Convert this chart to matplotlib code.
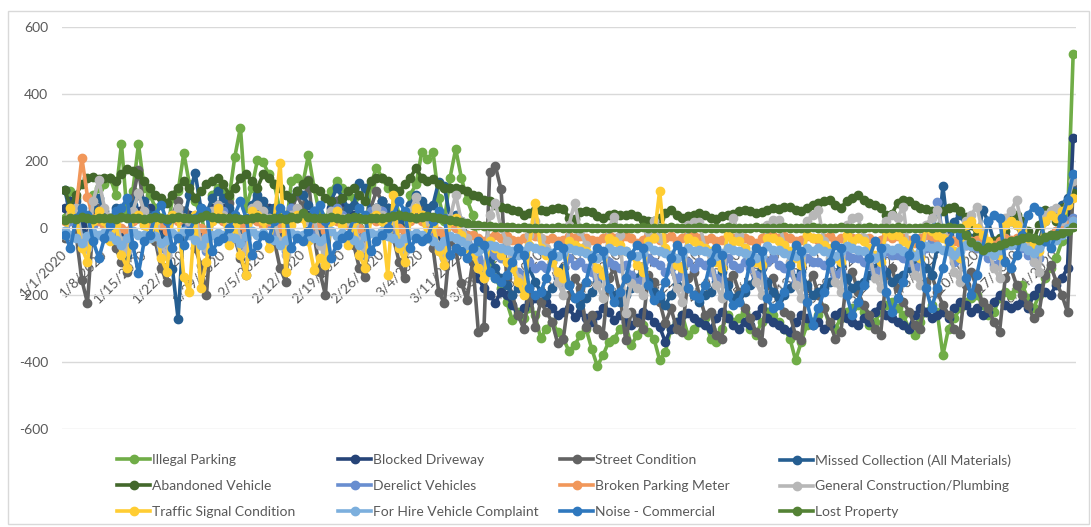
import matplotlib
matplotlib.use("Agg")
import matplotlib.pyplot as plt
from matplotlib.patches import Rectangle
import pandas as pd

plt.rcParams['font.family'] = ['Lato', 'DejaVu Sans']
plt.rcParams['axes.unicode_minus'] = False

# daily categories 1/1/2020 .. 6/27/2020
dates = pd.date_range('2020-01-01', periods=179)
day_labels = [f"{d.month}/{d.day}/{d.year}" for d in dates]

illegal_parking = [
    30, 110, 90, 20, -40, 100, 120,   130, 150, 100, 251, 40, 110, 250,
    120, 100, 60, 30, -20, 90, 110,   224, 130, 80, 40, -30, 100, 120,
    110, 90, 212, 300, 60, 120, 203,   197, 160, 130, 50, -10, 140, 150,
    130, 218, 120, 40, -20, 110, 140,   120, 100, 90, 30, -30, 130, 180,
    150, 120, 110, 40, -10, 100, 130,   226, 206, 226, 90, 20, 150, 236,
    150, 84, 40, -60, -120, -100, -150,   -180, -220, -275, -250, -270, -240, -260,
    -329, -300, -280, -310, -330, -368, -350,   -320, -300, -360, -412, -380, -340, -330,
    -300, -290, -350, -320, -290, -310, -330,   -394, -370, -300, -280, -260, -320, -300,
    -280, -270, -330, -340, -300, -260, -280,   -270, -250, -300, -320, -280, -250, -260,
    -280, -300, -330, -395, -340, -290, -280,   -260, -240, -290, -300, -270, -250, -240,
    -230, -250, -290, -280, -250, -230, -220,   -240, -260, -300, -320, -280, -250, -230,
    -250, -380, -300, -270, -240, -220, -210,   -200, -230, -260, -250, -210, -190, -200,
    -180, -170, -210, -240, -200, -150, -120,   -90, -40, 20, 520,
]

blocked_driveway = [
    60, 80, 40, 10, -20, 50, 60,   40, 30, 20, -10, -30, 40, 50,
    30, 60, 40, 0, -40, 30, 50,   50, 40, 20, -20, -40, 60, 70,
    60, 50, 30, 10, -30, 40, 60,   70, 60, 40, 0, -50, 30, 50,
    60, 40, 30, -10, -40, 60, 80,   70, 50, 40, 0, -30, 40, 60,
    80, 60, 50, 10, -20, 50, 40,   60, 40, 30, -20, -60, 20, 10,
    -20, -60, -100, -150, -180, -200, -223,   -190, -200, -230, -260, -240, -220, -210,
    -190, -220, -240, -260, -250, -240, -265,   -250, -270, -280, -260, -240, -250, -275,
    -260, -280, -290, -270, -250, -260, -280,   -295, -340, -300, -280, -260, -255, -270,
    -280, -290, -300, -270, -250, -270, -290,   -300, -280, -290, -260, -240, -270, -280,
    -290, -300, -310, -280, -260, -270, -290,   -280, -300, -290, -260, -250, -270, -280,
    -290, -270, -280, -250, -230, -260, -270,   -280, -290, -300, -260, -240, -250, -270,
    -260, -250, -270, -240, -220, -230, -250,   -240, -260, -250, -220, -200, -230, -240,
    -230, -220, -240, -200, -180, -190, -200,   -170, -150, -120, 270,
]

street_condition = [
    -30, 40, -20, -155, -224, 20, 60,   30, -20, -60, -100, -130, 90, 173,
    60, 20, -40, -120, -160, 40, 80,   50, 10, -60, -110, -200, 30, 70,
    40, 75, -30, -90, -140, 60, 90,   70, 30, -40, -120, -160, 50, 100,
    60, 143, -20, -130, -200, 40, 80,   50, 20, -50, -120, -145, 60, 110,
    80, 40, -30, -100, -150, 70, 90,   70, 30, -60, -190, -225, -40, -60,
    -165, -215, -100, -310, -295, 168, 185,   116, -150, -200, -260, -300, -180, -295,
    -220, -250, -280, -344, -330, -200, -150,   -180, -295, -260, -300, -320, -150, -120,
    -200, -334, -250, -280, -300, -140, -160,   -220, -285, -240, -300, -310, -150, -130,
    -200, -260, -250, -320, -330, -160, -140,   -190, -240, -270, -310, -340, -170, -150,
    -210, -250, -260, -320, -335, -180, -140,   -200, -240, -280, -330, -310, -150, -130,
    -190, -230, -260, -300, -320, -140, -120,   -180, -220, -250, -290, -300, -160, -140,
    -190, -230, -260, -300, -315, -170, -130,   -180, -220, -240, -280, -310, -150, -120,
    -170, -200, -230, -270, -250, -140, -110,   -160, -200, -250, 120,
]

missed_collection = [
    113, 40, 80, -20, -60, 60, 90,   50, 20, 60, -40, -80, 70, 100,
    80, 40, 30, -30, -60, -123, -272,   20, 100, 165, 60, 40, 90, 110,
    90, 60, 40, -20, -50, 70, 100,   80, 50, 60, -30, -60, 90, 110,
    100, 70, 50, -20, -40, 80, 120,   90, 60, 70, 134, 119, 40, 60,
    80, 60, 50, 20, -20, 70, 100,   80, 60, 70, 138, 124, 30, 40,
    20, -20, -60, -100, -130, -90, -120,   -150, -170, -200, -180, -140, -120, -160,
    -190, -200, -180, -150, -120, -170, -210,   -230, -210, -190, -160, -130, -180, -200,
    -220, -200, -180, -150, -120, -160, -190,   -210, -230, -200, -170, -140, -180, -200,
    -220, -200, -190, -160, -130, -170, -210,   -200, -190, -170, -140, -120, -160, -190,
    -210, -200, -180, -150, -130, -170, -200,   -190, -180, -160, -140, -110, -150, -180,
    -170, -160, -140, -120, -90, -130, -160,   -150, -140, -120, -100, -80, -120, -140,
    -60, 125, -20, 19, 40, 10, -30,   -50, 54, 20, -40, -80, -20, 30,
    10, -30, -60, -90, -40, 20, 50,   40, 70, 90, 110,
]

abandoned_vehicle = [
    113, 64, 100, 130, 150, 153, 145,   150, 150, 140, 160, 176, 170, 160,
    140, 120, 100, 90, 75, 100, 120,   140, 120, 90, 110, 130, 140, 150,
    130, 100, 120, 150, 160, 140, 120,   160, 150, 130, 120, 100, 90, 110,
    130, 140, 120, 110, 90, 80, 60,   90, 110, 120, 100, 80, 140, 150,
    149, 140, 120, 110, 130, 150, 179,   150, 140, 145, 130, 120, 119, 120,
    115, 110, 100, 95, 84, 80, 70,   64, 60, 55, 50, 39, 45, 54,
    54, 50, 56, 60, 58, 30, 28,   49, 50, 48, 35, 30, 38, 42,
    40, 39, 42, 36, 25, 20, 22,   30, 45, 54, 40, 30, 35, 40,
    45, 39, 30, 28, 35, 40, 42,   50, 54, 50, 45, 48, 55, 60,
    58, 62, 64, 55, 50, 60, 70,   75, 80, 84, 70, 60, 80, 90,
    99, 85, 75, 70, 60, 40, 42,   75, 84, 80, 70, 60, 58, 50,
    45, 50, 60, 64, 50, 34, 10,   -20, -50, -60, -40, -30, -10, 20,
    40, 20, -10, -40, 10, 54, 45,   20, 60, 80, 105,
]

derelict_vehicles = [
    -20, 20, 40, -30, -60, 10, 30,   20, 0, -10, -50, -70, 40, 30,
    10, 20, -20, -60, -80, 30, 50,   30, 10, -30, -40, -70, 40, 60,
    50, 20, -20, -50, -60, 30, 40,   40, 10, -10, -40, -70, 60, 50,
    30, 20, -20, -50, -60, 40, 60,   40, 30, -10, -30, -80, 50, 40,
    50, 30, 0, -40, -60, 40, 30,   30, 10, -20, -70, -90, 10, 0,
    -20, -40, -60, -90, -110, -70, -80,   -90, -100, -110, -130, -150, -100, -120,
    -110, -120, -100, -140, -160, -90, -110,   -100, -120, -130, -150, -140, -100, -110,
    -120, -110, -140, -160, -150, -90, -100,   -110, -130, -120, -150, -140, -100, -120,
    -100, -110, -130, -150, -160, -90, -110,   -120, -100, -120, -140, -150, -100, -90,
    -110, -120, -130, -160, -140, -90, -100,   -100, -110, -120, -140, -130, -80, -90,
    -90, -100, -110, -130, -120, -70, -80,   -80, -90, -100, -120, -110, -60, -40,
    79, -20, -60, -100, -90, -50, -40,   -60, -70, -90, -110, -100, -50, -40,
    -50, -60, -80, -100, -90, -40, -20,   -10, 0, 20, 30,
]

broken_parking_meter = [
    20, 40, 60, 210, 93, 30, 20,   10, 20, 30, 0, -10, 20, 30,
    20, 10, 30, 10, -10, 30, 20,   30, 20, 10, 0, -20, 20, 40,
    20, 10, 20, 10, -10, 30, 20,   10, 20, 30, 0, -20, 20, 30,
    30, 20, 10, 10, -10, 40, 20,   20, 10, 20, 0, -20, 30, 20,
    30, 20, 10, 0, -10, 20, 30,   20, 10, 0, -10, -20, 10, 0,
    -10, -20, -20, -30, -40, -30, -20,   -30, -25, -35, -40, -30, -20, -25,
    -30, -35, -30, -40, -35, -25, -30,   -25, -30, -35, -40, -30, -20, -30,
    -30, -25, -30, -45, -35, -25, -30,   -35, -30, -25, -40, -30, -20, -25,
    -30, -35, -30, -40, -35, -25, -30,   -25, -30, -35, -45, -30, -20, -25,
    -30, -25, -30, -40, -35, -25, -30,   -35, -30, -25, -40, -30, -20, -30,
    -30, -35, -30, -40, -35, -25, -30,   -25, -30, -35, -45, -30, -20, -25,
    -30, -25, -30, -40, -45, -50, -40,   -35, -40, -45, -50, -40, -30, -35,
    -30, -40, -35, -45, -40, -30, -20,   -10, 0, 10, 20,
]

general_construction = [
    -20, 40, 60, -30, -60, 80, 143,   60, 30, 20, -40, -70, 50, 104,
    50, 30, 10, -50, -80, 40, 60,   30, 20, 40, -40, -60, 50, 70,
    40, 20, 30, -30, -70, 60, 69,   50, 30, 20, -40, -80, 40, 60,
    40, 20, 30, -50, -70, 50, 50,   30, 20, 10, -40, -60, 30, 60,
    40, 30, 20, -30, -70, 50, 93,   40, 20, 10, -60, -90, 30, 99,
    20, -30, -60, -120, -150, 40, 75,   0, -40, -80, -150, -180, -20, 20,
    -30, -60, -100, -160, -200, 10, 75,   -10, -50, -90, -170, -210, 0, 34,
    -20, -254, -165, -180, -200, -10, 20,   -30, -70, -110, -180, -220, 10, 19,
    19, -60, -100, -170, -210, 0, 30,   -20, -60, -90, -160, -200, 10, 24,
    24, -50, -100, -170, -210, 20, 40,   54, -40, -90, -160, -190, 10, 30,
    34, -30, -80, -150, -180, 20, 40,   30, 64, -70, -140, -170, 10, 30,
    54, -20, -60, -130, -160, 20, 40,   64, -10, -50, -120, -150, 30, 50,
    84, 0, -40, -100, -130, 40, 50,   60, 20, 80, 140,
]

traffic_signal = [
    -20, 60, 30, -60, -100, 20, 50,   20, -40, 10, -80, -120, 30, 40,
    10, -30, 20, -90, -130, 40, 30,   -145, -190, 40, -180, -100, 20, 60,
    30, -50, 10, -80, -140, 50, 40,   20, -60, 30, 195, -130, 10, 40,
    30, -40, -125, -90, -110, 20, 50,   10, -50, 20, -80, -120, 30, 40,
    20, -140, 99, -60, -100, 30, 60,   40, -30, 10, -70, -110, 20, 30,
    -20, -60, -80, -120, -150, -40, -60,   -80, -100, -120, -160, -200, -50, 75,
    -60, -80, -100, -130, -150, -40, -50,   -60, -70, -90, -120, -140, -30, -40,
    -50, -70, -80, -110, -130, -40, -30,   111, -60, -80, -110, -120, -30, -40,
    -50, -60, -70, -100, -120, -20, -40,   -40, -60, -80, -100, -110, -30, -30,
    -40, -50, -70, -90, -110, -20, -30,   -30, -50, -60, -90, -100, -20, -40,
    -30, -40, -60, -80, -100, -10, -20,   -20, -40, -50, -80, -90, 0, -10,
    -20, -30, -50, -70, -90, 10, 20,   0, -20, -40, -60, -80, 10, 20,
    10, -10, -30, -50, -70, 20, 40,   30, 50, 70, 90,
]

for_hire_vehicle = [
    -10, -20, -30, -45, -25, -15, -20,   -15, -25, -35, -50, -30, -10, -20,
    -20, -30, -25, -45, -35, -15, -25,   -10, -20, -35, -50, -30, -20, -15,
    -20, -25, -30, -45, -25, -10, -20,   -15, -30, -35, -50, -35, -15, -20,
    -20, -25, -30, -40, -30, -10, -25,   -15, -20, -35, -50, -25, -15, -20,
    -10, -25, -30, -45, -30, -20, -15,   -20, -30, -40, -55, -40, -25, -30,
    -40, -50, -60, -70, -60, -50, -55,   -60, -65, -70, -80, -70, -55, -60,
    -65, -70, -75, -85, -75, -60, -65,   -70, -75, -80, -90, -80, -60, -70,
    -65, -70, -80, -85, -75, -55, -65,   -70, -75, -80, -90, -80, -60, -70,
    -65, -70, -75, -85, -75, -60, -65,   -70, -75, -80, -90, -80, -55, -65,
    -65, -75, -80, -85, -75, -60, -70,   -60, -70, -75, -85, -70, -55, -60,
    -65, -70, -80, -90, -75, -60, -65,   -60, -70, -75, -85, -70, -55, -60,
    -55, -65, -70, -80, -70, -50, -55,   -50, -60, -70, -80, -65, -45, -50,
    -45, -55, -65, -75, -60, -40, -45,   -35, -20, 0, 20,
]

noise_commercial = [
    -20, -60, 30, 60, 40, -40, -90,   -30, 10, 50, 60, 89, -50, -135,
    -40, -20, 40, 70, 20, -60, -30,   -50, -10, 30, 60, 50, -70, -40,
    -30, 0, 40, 80, 30, -80, -50,   -20, -30, 20, 60, 40, -60, -30,
    -40, -10, 50, 70, 20, -90, -50,   -30, -20, 30, 60, 40, -70, -40,
    -20, 0, 40, 80, 50, -60, -30,   -40, -30, 20, 50, 30, -80, -60,
    -70, -90, -60, -40, -50, -130, -150,   -160, -140, -100, -60, -80, -180, -200,
    -190, -150, -80, -50, -60, -170, -210,   -200, -160, -90, -60, -70, -180, -220,
    -190, -150, -80, -50, -60, -170, -215,   -200, -160, -90, -50, -70, -180, -200,
    -210, -170, -100, -60, -80, -200, -230,   -220, -180, -100, -60, -70, -210, -240,
    -230, -190, -110, -50, -70, -220, -290,   -240, -190, -100, -50, -60, -200, -260,
    -220, -170, -90, -40, -60, -190, -250,   -210, -160, -80, -30, -50, -180, -240,
    -180, -120, -40, 0, -20, -150, -200,   -140, -60, 20, 40, 30, -100, -120,
    -80, -20, 40, 64, 50, -40, -60,   -20, 30, 84, 160,
]

lost_property = [
    25, 30, 28, 32, 30, 27, 29,   31, 30, 28, 33, 29, 31, 30,
    28, 30, 32, 29, 27, 30, 33,   30, 29, 27, 34, 38, 32, 30,
    29, 31, 30, 28, 26, 30, 32,   30, 28, 31, 29, 27, 32, 30,
    45, 32, 30, 29, 31, 33, 30,   28, 30, 32, 30, 27, 29, 31,
    30, 32, 36, 38, 35, 33, 30,   34, 35, 33, 30, 28, 25, 22,
    18, 15, 10, 8, 6, 5, 4,   3, 2, 2, 1, 2, 1, 1,
    1, 0, 1, 2, 1, 0, 1,   1, 2, 1, 0, 1, 1, 2,
    1, 0, 1, 1, 2, 1, 0,   1, 1, 2, 1, 0, 1, 1,
    2, 1, 0, 1, 1, 2, 1,   0, 1, 1, 2, 1, 0, 1,
    1, 2, 1, 0, 1, 1, 2,   1, 0, 1, 1, 2, 1, 0,
    1, 1, 2, 1, 0, 1, 1,   2, 1, 0, 1, 1, 2, 1,
    2, 1, 2, 1, 0, -20, -41,   -55, -66, -58, -56, -50, -45, -40,
    -35, -30, -26, -30, -35, -28, -22,   -20, -15, -10, 4,
]

series = [
    ("Illegal Parking", illegal_parking, "#70AD47"),
    ("Blocked Driveway", blocked_driveway, "#264478"),
    ("Street Condition", street_condition, "#636363"),
    ("Missed Collection (All Materials)", missed_collection, "#255E91"),
    ("Abandoned Vehicle", abandoned_vehicle, "#43682B"),
    ("Derelict Vehicles", derelict_vehicles, "#698ED0"),
    ("Broken Parking Meter", broken_parking_meter, "#F1975A"),
    ("General Construction/Plumbing", general_construction, "#B7B7B7"),
    ("Traffic Signal Condition", traffic_signal, "#FFCD33"),
    ("For Hire Vehicle Complaint", for_hire_vehicle, "#7CAFDD"),
    ("Noise - Commercial", noise_commercial, "#2F78BE"),
    ("Lost Property", lost_property, "#548235"),
]

for name, vals, _ in series:
    assert len(vals) == len(dates), (name, len(vals))

W, H = 1091, 527
fig = plt.figure(figsize=(W / 100, H / 100), dpi=100)
fig.patches.append(Rectangle((8 / W, 1 - 524 / H), (1089 - 8) / W, (524 - 11) / H,
                             transform=fig.transFigure, fill=False,
                             edgecolor="#D9D9D9", lw=1))

ax = fig.add_axes([62 / W, 1 - 429 / H, (1076 - 62) / W, (429 - 27) / H])
x = list(range(len(dates)))
handles = []
for name, vals, color in series:
    h, = ax.plot(x, vals, color=color, lw=2.6, marker="o", ms=6, label=name)
    handles.append(h)

ax.set_xlim(-0.5, len(dates) - 0.5)
ax.set_ylim(-600, 600)
ax.set_yticks(range(-600, 601, 200))
ax.yaxis.grid(True, color="#D9D9D9", lw=1)
ax.set_axisbelow(True)
for s in ["top", "right", "left"]:
    ax.spines[s].set_visible(False)
ax.spines["bottom"].set_position(("data", 0))
ax.spines["bottom"].set_color("#D9D9D9")
ax.tick_params(axis="y", length=0, pad=10, labelsize=10, labelcolor="#595959")

ticks = list(range(0, len(dates), 7))
ax.set_xticks(ticks)
ax.set_xticklabels([day_labels[i] for i in ticks], rotation=45, ha="right",
                   va="center", rotation_mode="anchor")
ax.tick_params(axis="x", length=0, pad=17, labelsize=10, labelcolor="#595959")

# legend: 4 columns, row-major like Excel
col_x = [117, 338, 560, 780]
for j in range(4):
    hs = [handles[j], handles[j + 4], handles[j + 8]]
    fig.legend(hs, [h.get_label() for h in hs], loc="upper left",
               bbox_to_anchor=(col_x[j] / W, 1 - 454 / H),
               bbox_transform=fig.transFigure, frameon=False,
               fontsize=10, handlelength=2.4, handletextpad=0.15,
               labelspacing=1.0, borderpad=0, borderaxespad=0,
               labelcolor="#595959")

fig.savefig("out.png", dpi=100)
